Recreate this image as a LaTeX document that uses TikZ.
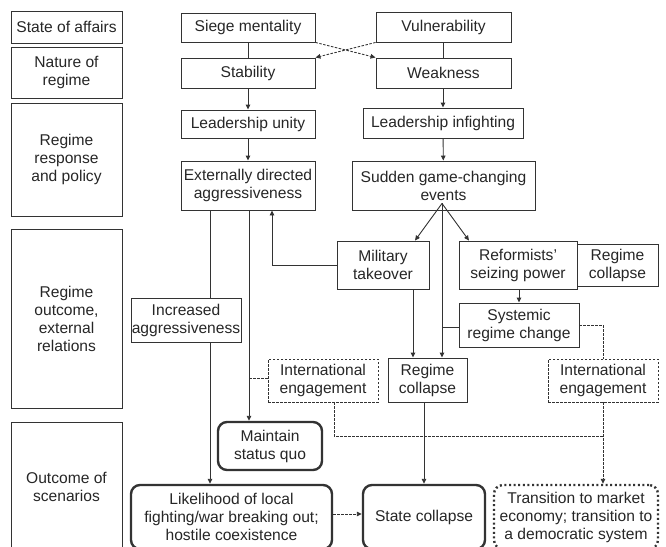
\documentclass[tikz,border=0pt]{standalone}
\usepackage{fontspec}
\setmainfont{Liberation Sans}
\usetikzlibrary{arrows.meta}
\begin{document}
\begin{tikzpicture}[x=1pt,y=-1pt,
  font=\fontsize{15.6}{18}\selectfont, text=black!85,
  bx/.style={draw=black!80, line width=0.9pt, inner sep=0pt, align=center},
  dbx/.style={bx, dash pattern=on 2.5pt off 1.5pt},
  tbx/.style={bx, line width=2.4pt, rounded corners=9pt},
  obx/.style={bx, line width=2.4pt, rounded corners=9pt, dash pattern=on 2pt off 2.6pt},
  ln/.style={draw=black!80, line width=0.9pt},
  ar/.style={ln, -{Triangle[length=5pt,width=4.5pt]}},
  dln/.style={ln, dash pattern=on 2.5pt off 1.5pt},
  dar/.style={ar, dash pattern=on 2.5pt off 1.5pt}]
\useasboundingbox (0,0) rectangle (666,546);
\clip (0,0) rectangle (666,546);
% left column
\node[bx, minimum width=111pt, minimum height=32pt] (l1) at (66.5,27) {State of affairs};
\node[bx, minimum width=111pt, minimum height=51pt] (l2) at (66.5,72.5) {Nature of\\regime};
\node[bx, minimum width=111pt, minimum height=113pt] (l3) at (66.5,159.5) {Regime\\response\\and policy};
\node[bx, minimum width=111pt, minimum height=179pt] (l4) at (66.5,318.5) {Regime\\outcome,\\external\\relations};
\node[bx, minimum width=111pt, minimum height=130pt] (l5) at (66.5,487) {Outcome of\\scenarios};
% centre
\node[bx, minimum width=134pt, minimum height=29pt] (siege) at (248,27.5) {Siege mentality};
\node[bx, minimum width=134pt, minimum height=30pt] (stab) at (248,73) {Stability};
\node[bx, minimum width=134pt, minimum height=28pt] (unity) at (248,124) {Leadership unity};
\node[bx, minimum width=134pt, minimum height=49pt] (ext) at (248,185.5) {Externally directed\\aggressiveness};
\node[bx, minimum width=135pt, minimum height=30pt] (vuln) at (443.5,27) {Vulnerability};
\node[bx, minimum width=135pt, minimum height=30pt] (weak) at (443.5,73) {Weakness};
\node[bx, minimum width=160pt, minimum height=30pt] (infight) at (443,123) {Leadership infighting};
\node[bx, minimum width=183pt, minimum height=49pt] (sudden) at (443.5,185.5) {Sudden game-changing\\events};
\node[bx, minimum width=92pt, minimum height=48pt] (mil) at (383,265) {Military\\takeover};
\node[bx, minimum width=118pt, minimum height=48pt] (ref) at (518,265) {Reformists'\\seizing power};
\node[bx, minimum width=81pt, minimum height=42pt] (rc1) at (617.5,265) {Regime\\collapse};
\node[bx, minimum width=120pt, minimum height=44pt] (sys) at (519,325) {Systemic\\regime change};
\node[bx, minimum width=110pt, minimum height=44pt] (incr) at (186,320) {Increased\\aggressiveness};
\node[dbx, minimum width=110pt, minimum height=43pt] (ie1) at (323,380.5) {International\\engagement};
\node[bx, minimum width=79pt, minimum height=44pt] (rc2) at (427.5,380) {Regime\\collapse};
\node[dbx, minimum width=110pt, minimum height=43pt] (ie2) at (603,380.5) {International\\engagement};
\node[tbx, minimum width=104pt, minimum height=48pt] (msq) at (270,446) {Maintain\\status quo};
\node[tbx, minimum width=201pt, minimum height=64pt] (like) at (231.5,517) {Likelihood of local\\fighting/war breaking out;\\hostile coexistence};
\node[tbx, minimum width=122pt, minimum height=64pt] (sc) at (424,517) {State collapse};
\node[obx, minimum width=164pt, minimum height=64pt] (trans) at (576,517) {Transition to market\\economy; transition to\\a democratic system};
% connectors
\draw[ln] (siege.south) -- (stab.north);
\draw[ln] (vuln.south) -- (weak.north);
\draw[dar] (siege.south east) -- (weak.north west);
\draw[dar] (vuln.south west) -- (stab.north east);
\draw[ar] (stab) -- (unity);
\draw[ar] (unity) -- (ext);
\draw[ar] (weak.south -| infight.north) -- (infight.north);
\draw[ar] (infight) -- (sudden);
\coordinate (split) at ([xshift=-1.5pt,yshift=7pt]sudden.south);
\draw[ln] ([xshift=-1.5pt]sudden.south) -- (split);
\draw[ar] (split) -- ([xshift=32pt]mil.north);
\draw[ar] (split) -- ([xshift=-49pt]ref.north);
\draw[ar] (split) -- (split |- rc2.north);
\draw[ln] (sys.west |- 0,327) -- (split |- 0,327);
\draw[ar] (mil.west) -| ([xshift=24pt]ext.south);
\draw[ar] ([xshift=30pt]mil.south) -- ([xshift=30pt]mil.south |- rc2.north);
\draw[ar] (ref.south -| sys.north) -- (sys.north);
\draw[dln] (sys.east) -| (ie2.north);
\draw[ln] ([xshift=-38pt]ext.south) -- ([xshift=-38pt]ext.south |- incr.north);
\draw[ar] ([xshift=-38pt]ext.south |- incr.south) -- ([xshift=-38pt]ext.south |- like.north);
\draw[ar] ([xshift=1pt]ext.south) -- ([xshift=1pt]ext.south |- msq.north);
\draw[dln] ([yshift=2.5pt]ie1.west) -- ([xshift=1pt,yshift=2.5pt]ie1.west -| ext.south);
\coordinate (j) at (603,436);
\draw[dln] ([xshift=11pt]ie1.south) |- (j);
\draw[dar] (ie2.south) -- (ie2.south |- trans.north);
\draw[ar] (sc.north |- rc2.south) -- (sc.north);
\draw[dar] ([yshift=3pt]like.east) -- ([yshift=3pt]sc.west);
\end{tikzpicture}
\end{document}
